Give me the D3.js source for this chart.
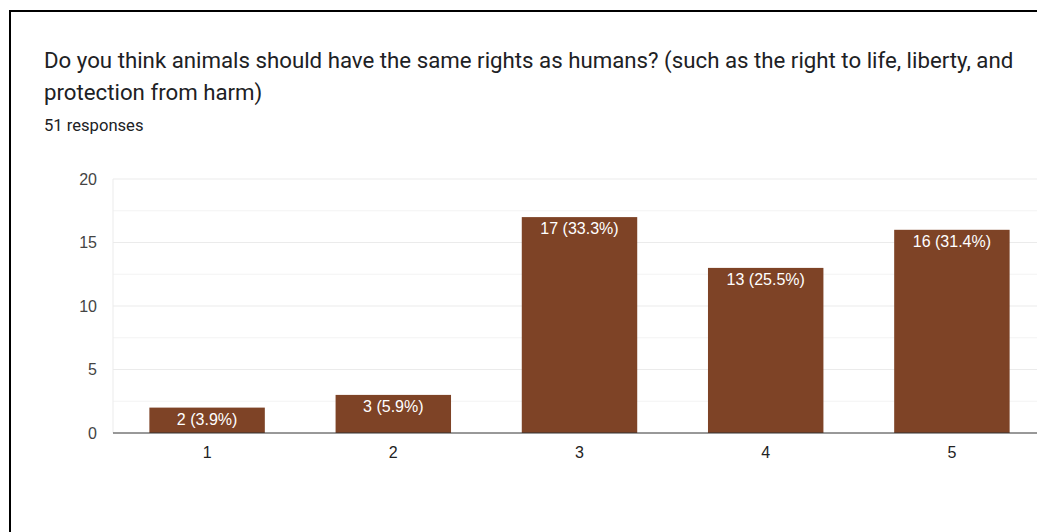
<!DOCTYPE html>
<html>
<head>
<meta charset="utf-8">
<script src="https://cdn.jsdelivr.net/npm/d3@7"></script>
<style>
  html, body { margin: 0; padding: 0; background: #fff; overflow: hidden; }
  svg { display: block; }
</style>
</head>
<body>
<svg id="chart" width="1037" height="532"></svg>
<script>
const titleLines = [
  "Do you think animals should have the same rights as humans? (such as the right to life, liberty, and",
  "protection from harm)"
];
const subtitle = "51 responses";
const categories = ["1", "2", "3", "4", "5"];
const counts = [2, 3, 17, 13, 16];
const percents = ["3.9%", "5.9%", "33.3%", "25.5%", "31.4%"];
const yTicks = [0, 5, 10, 15, 20];
const yMinorTicks = [2.5, 7.5, 12.5, 17.5];

const svg = d3.select("#chart");

// frame
svg.append("path")
  .attr("d", "M10,532 L10,11 L1037,11")
  .attr("fill", "none").attr("stroke", "#000").attr("stroke-width", 2);

// title
titleLines.forEach((t, i) => {
  svg.append("text")
    .attr("x", 44).attr("y", 68 + i * 32)
    .attr("font-family", "Roboto, 'Noto Sans', sans-serif")
    .attr("font-size", 22.25).attr("fill", "#202124")
    .text(t);
});
svg.append("text")
  .attr("x", 44).attr("y", 131)
  .attr("font-family", "Roboto, 'Noto Sans', sans-serif")
  .attr("font-size", 16.6).attr("fill", "#202124")
  .text(subtitle);

const x = d3.scaleBand().domain(categories).range([114, 1045])
  .paddingInner(0.38).paddingOuter(0.19);
const y = d3.scaleLinear().domain([0, 20]).range([433, 179]);

// gridlines
svg.append("g").selectAll("line").data(yMinorTicks).join("line")
  .attr("x1", 113).attr("x2", 1045)
  .attr("y1", d => y(d)).attr("y2", d => y(d))
  .attr("stroke", "#f3f3f3").attr("stroke-width", 1);
svg.append("g").selectAll("line").data(yTicks.filter(d => d > 0)).join("line")
  .attr("x1", 113).attr("x2", 1045)
  .attr("y1", d => y(d)).attr("y2", d => y(d))
  .attr("stroke", "#ebebeb").attr("stroke-width", 1);
svg.append("line")
  .attr("x1", 113).attr("x2", 113).attr("y1", y(20)).attr("y2", y(0))
  .attr("stroke", "#ebebeb");

// y labels
const yAxis = d3.axisLeft(y).tickValues(yTicks).tickSize(0).tickPadding(16);
const gy = svg.append("g").attr("transform", "translate(113,0)").call(yAxis);
gy.select(".domain").remove();
gy.selectAll("text")
  .attr("font-family", "Arial, 'Liberation Sans', sans-serif")
  .attr("font-size", 16).attr("fill", "#444");

// bars
svg.append("g").selectAll("rect").data(categories).join("rect")
  .attr("x", d => x(d))
  .attr("width", x.bandwidth())
  .attr("y", (d, i) => y(counts[i]))
  .attr("height", (d, i) => y(0) - y(counts[i]))
  .attr("fill", "#7e4326");

// bar labels
svg.append("g").selectAll("text").data(categories).join("text")
  .attr("x", d => x(d) + x.bandwidth() / 2)
  .attr("y", (d, i) => y(counts[i]) + 17)
  .attr("text-anchor", "middle")
  .attr("font-family", "Arial, 'Liberation Sans', sans-serif")
  .attr("font-size", 16).attr("fill", "#fff")
  .text((d, i) => `${counts[i]} (${percents[i]})`);

// zero line
svg.append("line")
  .attr("x1", 113).attr("x2", 1045).attr("y1", y(0)).attr("y2", y(0))
  .attr("stroke", "#333").attr("stroke-width", 1);

// x labels
const xAxis = d3.axisBottom(x).tickSize(0).tickPadding(14);
const gx = svg.append("g").attr("transform", `translate(0,${y(0)})`).call(xAxis);
gx.select(".domain").remove();
gx.selectAll("text")
  .attr("font-family", "Arial, 'Liberation Sans', sans-serif")
  .attr("font-size", 16).attr("fill", "#222");
</script>
</body>
</html>
